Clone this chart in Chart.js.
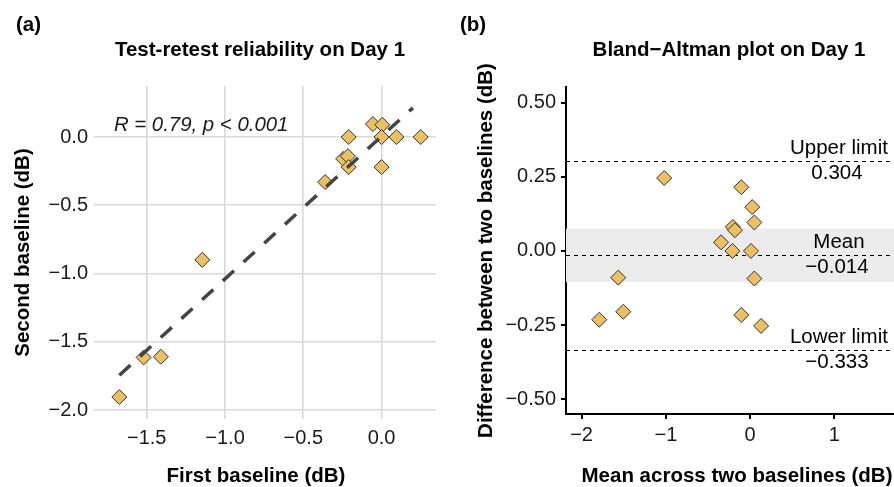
<!DOCTYPE html>
<html>
<head>
<meta charset="utf-8">
<script src="https://cdn.jsdelivr.net/npm/chart.js@4.4.1/dist/chart.umd.min.js"></script>
<style>
  html, body { margin: 0; padding: 0; background: #fff; overflow: hidden; }
  #wrap { position: relative; width: 894px; height: 487px; overflow: hidden; }
  .panel { position: absolute; top: 0; }
  #panelA { left: 0; width: 447px; height: 487px; }
  #panelB { left: 447px; width: 480px; height: 487px; }
</style>
</head>
<body>
<div id="wrap">
  <div class="panel" id="panelA"><canvas id="chartA" width="447" height="487"></canvas></div>
  <div class="panel" id="panelB"><canvas id="chartB" width="480" height="487"></canvas></div>
</div>
<script>
// --- panel (a): test-retest ---
const firstBaseline  = [-1.675, -1.52, -1.41, -1.145, -0.36, -0.245, -0.215, -0.21, -0.21, -0.055, 0.005, 0.0, 0.095, 0.25, 0.0];
const secondBaseline = [-1.905, -1.615, -1.61, -0.9, -0.33, -0.16, -0.14, -0.22, 0.0, 0.095, 0.09, 0.0, 0.0, 0.0, -0.22];
const fitX = [-1.675, 0.2];
const fitY = [-1.745, 0.214];
const ticksAx = [-1.5, -1.0, -0.5, 0.0];
const ticksAy = [-2.0, -1.5, -1.0, -0.5, 0.0];
const statText = 'R = 0.79, p < 0.001';
const statPos = [-1.71, 0.088];

// --- panel (b): Bland-Altman ---
const meanBaselines = [-1.79, -1.565, -1.505, -1.02, -0.345, -0.205, -0.18, -0.21, -0.105, 0.025, 0.05, 0.01, 0.05, 0.13, -0.105];
const diffBaselines = [-0.232, -0.09, -0.205, 0.246, 0.029, 0.081, 0.07, 0.0, 0.215, 0.148, 0.096, 0.0, -0.093, -0.253, -0.216];
const ticksBx = [-2, -1, 0, 1];
const ticksBy = [-0.5, -0.25, 0, 0.25, 0.5];
const limitNames = ['Upper limit', 'Mean', 'Lower limit'];
const limitValues = [0.304, -0.014, -0.333];
const meanBand = [-0.104, 0.075];
const limitLabelX = 1.03;

const FONT = 'Liberation Sans, Arial, Helvetica, sans-serif';
const pointFill = '#EBC063';

function fmt(v, d) {
  const s = Math.abs(v) < 1e-9 ? (0).toFixed(d) : v.toFixed(d);
  return s.replace('-', '\u2212');
}

// titles, panel tags and x axis titles
const textPlugin = {
  id: 'panelText',
  afterDraw(chart, args, opts) {
    const ctx = chart.ctx;
    ctx.save();
    ctx.fillStyle = '#000';
    ctx.textBaseline = 'middle';
    ctx.font = 'bold 20.5px ' + FONT;
    ctx.textAlign = 'left';
    ctx.fillText(opts.tag, opts.tagX, 25);
    ctx.textAlign = 'center';
    ctx.fillText(opts.title, opts.titleX, 50);
    ctx.fillText(opts.xTitle, opts.xTitleX, 476);
    ctx.restore();
  }
};

const statPlugin = {
  id: 'stat',
  afterDatasetsDraw(chart) {
    if (chart.canvas.id !== 'chartA') return;
    const {ctx, scales: {x, y}} = chart;
    ctx.save();
    ctx.fillStyle = '#1a1a1a';
    ctx.font = 'italic 20.4px ' + FONT;
    ctx.textAlign = 'left';
    ctx.textBaseline = 'middle';
    ctx.fillText(statText, x.getPixelForValue(statPos[0]), y.getPixelForValue(statPos[1]));
    ctx.restore();
  }
};

const limitPlugin = {
  id: 'limits',
  beforeDatasetsDraw(chart) {
    if (chart.canvas.id !== 'chartB') return;
    const {ctx, chartArea: a, scales: {x, y}} = chart;
    ctx.save();
    const yTop = y.getPixelForValue(meanBand[1]);
    const yBot = y.getPixelForValue(meanBand[0]);
    ctx.fillStyle = '#ebebeb';
    ctx.fillRect(a.left, yTop, a.right - a.left, yBot - yTop);

    ctx.strokeStyle = '#000';
    ctx.lineWidth = 1;
    ctx.setLineDash([4, 4]);
    ctx.font = '20.5px ' + FONT;
    ctx.fillStyle = '#000';
    ctx.textAlign = 'center';
    ctx.textBaseline = 'middle';
    const lx = x.getPixelForValue(limitLabelX);
    limitValues.forEach((v, i) => {
      const py = Math.round(y.getPixelForValue(v)) + 0.5;
      ctx.beginPath();
      ctx.moveTo(a.left, py);
      ctx.lineTo(a.right, py);
      ctx.stroke();
      ctx.fillText(limitNames[i], lx + 2, py - 13);
      ctx.fillText(fmt(v, 3), lx, py + 12);
    });
    ctx.restore();
  }
};

function pointSet(xs, ys) {
  return {
    type: 'scatter',
    data: xs.map((v, i) => ({x: v, y: ys[i]})),
    pointStyle: 'rectRot',
    pointRadius: 7.5,
    pointBackgroundColor: pointFill,
    pointBorderColor: '#333',
    pointBorderWidth: 1
  };
}

const tickFont = {family: FONT, size: 20};
const titleFont = {family: FONT, size: 20.5, weight: 'bold'};

// --- chart (a) ---
new Chart(document.getElementById('chartA'), {
  type: 'scatter',
  data: {
    datasets: [
      {
        type: 'line',
        data: fitX.map((v, i) => ({x: v, y: fitY[i]})),
        borderColor: '#444',
        borderWidth: 3.5,
        borderDash: [15, 13],
        pointRadius: 0,
        fill: false
      },
      pointSet(firstBaseline, secondBaseline)
    ]
  },
  options: {
    responsive: false,
    animation: false,
    events: [],
    layout: {padding: {top: 86, right: 11, left: 0, bottom: 0}},
    plugins: {
      legend: {display: false},
      tooltip: {enabled: false},
      panelText: {tag: '(a)', tagX: 16, title: 'Test-retest reliability on Day 1', titleX: 260,
                  xTitle: 'First baseline (dB)', xTitleX: 256}
    },
    scales: {
      x: {
        type: 'linear', min: -1.837, max: 0.348,
        afterBuildTicks: s => { s.ticks = ticksAx.map(v => ({value: v})); },
        afterFit: s => { s.height = 68; },
        ticks: {font: tickFont, color: '#1a1a1a', padding: 7, maxRotation: 0,
                callback: v => fmt(v, 1)},
        grid: {color: '#d9d9d9', lineWidth: 1.6, drawTicks: false},
        border: {display: false}
      },
      y: {
        type: 'linear', min: -2.066, max: 0.374,
        afterBuildTicks: s => { s.ticks = ticksAy.map(v => ({value: v})); },
        afterFit: s => { s.width = 94; },
        ticks: {font: tickFont, color: '#1a1a1a', padding: 6, callback: v => fmt(v, 1)},
        grid: {color: '#d9d9d9', lineWidth: 1.6, drawTicks: false},
        border: {display: false},
        title: {display: true, text: 'Second baseline (dB)', font: titleFont, color: '#000',
                padding: {top: 11, bottom: 0}}
      }
    }
  },
  plugins: [textPlugin, statPlugin]
});

// --- chart (b) ---
new Chart(document.getElementById('chartB'), {
  type: 'scatter',
  data: {datasets: [pointSet(meanBaselines, diffBaselines)]},
  options: {
    responsive: false,
    animation: false,
    events: [],
    layout: {padding: {top: 87, right: 18, left: 0, bottom: 0}},
    plugins: {
      legend: {display: false},
      tooltip: {enabled: false},
      panelText: {tag: '(b)', tagX: 13, title: 'Bland\u2212Altman plot on Day 1', titleX: 282,
                  xTitle: 'Mean across two baselines (dB)', xTitleX: 290}
    },
    scales: {
      x: {
        type: 'linear', min: -2.185, max: 1.885,
        afterBuildTicks: s => { s.ticks = ticksBx.map(v => ({value: v})); },
        afterFit: s => { s.height = 73; },
        ticks: {font: tickFont, color: '#1a1a1a', padding: 4, maxRotation: 0,
                callback: v => fmt(v, 0)},
        grid: {display: true, drawOnChartArea: false, drawTicks: true, tickLength: 5,
               color: '#000', lineWidth: 2},
        border: {display: true, color: '#000', width: 2}
      },
      y: {
        type: 'linear', min: -0.55, max: 0.553,
        afterBuildTicks: s => { s.ticks = ticksBy.map(v => ({value: v})); },
        afterFit: s => { s.width = 119; },
        ticks: {font: tickFont, color: '#1a1a1a', padding: 5, callback: v => fmt(v, 2)},
        grid: {display: true, drawOnChartArea: false, drawTicks: true, tickLength: 5,
               color: '#000', lineWidth: 2},
        border: {display: true, color: '#000', width: 2},
        title: {display: true, text: 'Difference between two baselines (dB)', font: titleFont,
                color: '#000', padding: {top: 27, bottom: 0}}
      }
    }
  },
  plugins: [textPlugin, limitPlugin]
});
</script>
</body>
</html>
